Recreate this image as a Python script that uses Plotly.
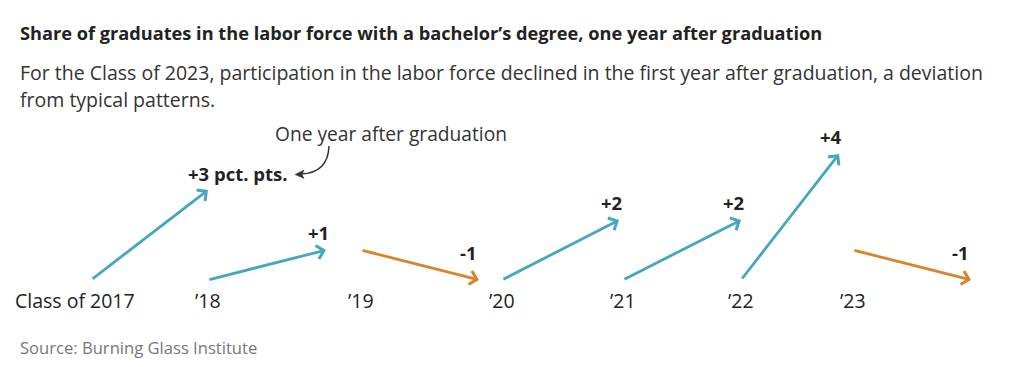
import plotly.graph_objects as go

# ---- data ----
classes = ["Class of 2017", "\u201918", "\u201919", "\u201920", "\u201921", "\u201922", "\u201923"]
change_pts = [3.0, 1.0, -1.0, 2.0, 2.0, 4.2, -1.0]   # change in labor-force share, one year after graduation (pct. pts.)

# ---- layout constants (pixels) ----
W, H = 1024, 367
BASE_PX = 280          # pixel row of the zero baseline
PX_PER_PT = 30         # vertical pixels per percentage point
SLOT_X = [91, 208, 361, 502, 623, 741, 853]   # arrow start x per class
ARROW_DX = [117, 118, 118, 117, 118, 98, 118]  # horizontal reach of each arrow

BLUE = "#45a6c0"
ORANGE = "#d8842e"
DARK = "#222222"
FONT = "Open Sans"


def py2y(py):
    return (BASE_PX - py) / PX_PER_PT


def py2paper(py):
    return 1 - py / H


fig = go.Figure()
fig.add_trace(go.Scatter(x=[0, W], y=[py2y(H), py2y(0)], mode="markers",
                         marker=dict(opacity=0), hoverinfo="skip", showlegend=False))

annotations = []
shapes = []

for i, (cls, v) in enumerate(zip(classes, change_pts)):
    x0 = SLOT_X[i]
    x1 = x0 + ARROW_DX[i]
    y0 = max(0.0, -v)
    y1 = y0 + v
    col = BLUE if v >= 0 else ORANGE
    annotations.append(dict(
        x=x1, y=y1, ax=x0, ay=y0, xref="x", yref="y", axref="x", ayref="y",
        text="", showarrow=True, arrowhead=4, arrowsize=0.95, arrowwidth=2.8,
        arrowcolor=col, standoff=0, startstandoff=0))
    r = int(round(v))
    txt = ("+%d" % r) if r > 0 else ("-%d" % abs(r))
    if i == 0:
        annotations.append(dict(x=x1 - 22, y=y1, xref="x", yref="y", text="<b>%s pct. pts.</b>" % txt,
                                showarrow=False, xanchor="left", yanchor="middle", yshift=17,
                                font=dict(family=FONT, size=18.5, color=DARK)))
    else:
        annotations.append(dict(x=x1 - (8 if v > 0 else 11), y=y1, xref="x", yref="y",
                                text="<b>%s</b>" % txt, showarrow=False,
                                xanchor="center", yanchor="middle",
                                yshift=(18 if v > 0 else 28),
                                font=dict(family=FONT, size=18.5, color=DARK)))
    annotations.append(dict(x=(137 if i == 0 else x0), y=py2y(300), xref="x", yref="y",
                            text=cls, showarrow=False,
                            xanchor="center" if i else "right", yanchor="middle",
                            font=dict(family=FONT, size=19.5, color=DARK)))

# callout text + curved pointer
annotations.append(dict(x=273, y=py2y(133), xref="x", yref="y", text="One year after graduation",
                        showarrow=False, xanchor="left", yanchor="middle",
                        font=dict(family=FONT, size=19.2, color="#333333")))
shapes.append(dict(type="path", xref="x", yref="y",
                   path="M 329,%f Q 328,%f 301,%f" % (py2y(146), py2y(173), py2y(174)),
                   line=dict(color="#333333", width=1.5)))
shapes.append(dict(type="path", xref="x", yref="y",
                   path="M 295,%f L 304,%f L 302,%f L 304,%f Z" % (py2y(174.5), py2y(170), py2y(174.5), py2y(178.5)),
                   fillcolor="#333333", line=dict(color="#333333", width=0.5)))

# title, subtitle, source
annotations.append(dict(x=18 / W, y=py2paper(33), xref="paper", yref="paper",
                        text="<b>Share of graduates in the labor force with a bachelor\u2019s degree, one year after graduation</b>",
                        showarrow=False, xanchor="left", yanchor="middle",
                        font=dict(family=FONT, size=18.2, color=DARK)))
annotations.append(dict(x=18 / W, y=py2paper(72.5), xref="paper", yref="paper",
                        text="For the Class of 2023, participation in the labor force declined in the first year after graduation, a deviation",
                        showarrow=False, xanchor="left", yanchor="middle",
                        font=dict(family=FONT, size=19.5, color="#333333")))
annotations.append(dict(x=18 / W, y=py2paper(99.5), xref="paper", yref="paper",
                        text="from typical patterns.",
                        showarrow=False, xanchor="left", yanchor="middle",
                        font=dict(family=FONT, size=19.5, color="#333333")))
annotations.append(dict(x=18 / W, y=py2paper(347), xref="paper", yref="paper",
                        text="Source: Burning Glass Institute",
                        showarrow=False, xanchor="left", yanchor="middle",
                        font=dict(family=FONT, size=16.6, color="#777777")))

fig.update_layout(
    width=W, height=H, margin=dict(l=0, r=0, t=0, b=0),
    paper_bgcolor="white", plot_bgcolor="white",
    xaxis=dict(range=[0, W], visible=False, fixedrange=True),
    yaxis=dict(range=[py2y(H), py2y(0)], visible=False, fixedrange=True),
    annotations=annotations, shapes=shapes, showlegend=False,
)

fig.write_html("out.html")
